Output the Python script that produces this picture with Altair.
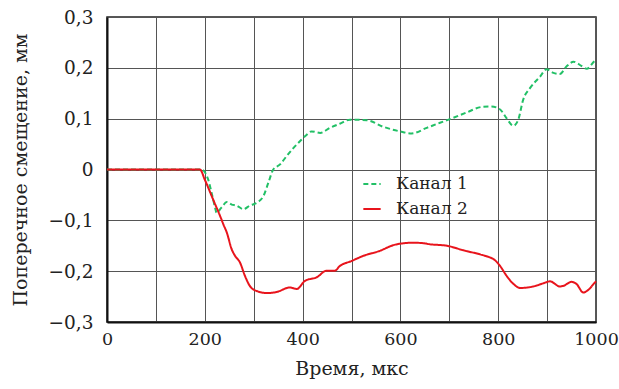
import altair as alt
import pandas as pd

# Channel 1 (green dashed)
t1 = [0, 100, 193, 207, 214, 221, 224, 234, 245, 255, 265, 279, 292, 309, 320, 330, 340,
      354, 367, 381, 395, 408, 418, 436, 456, 476, 497, 531, 565, 599, 623, 654, 681, 701,
      735, 766, 786, 804, 817, 831, 841, 851, 865, 885, 899, 913, 926, 940, 954, 970, 981,
      998, 1000]
v1 = [0, 0, 0, -0.02, -0.046, -0.075, -0.085, -0.075, -0.064, -0.069, -0.071, -0.078, -0.071,
      -0.064, -0.052, -0.026, 0.0, 0.010, 0.026, 0.042, 0.056, 0.068, 0.075, 0.072, 0.082,
      0.090, 0.098, 0.097, 0.084, 0.075, 0.071, 0.082, 0.092, 0.099, 0.112, 0.123, 0.124,
      0.118, 0.101, 0.086, 0.098, 0.137, 0.160, 0.182, 0.197, 0.190, 0.188, 0.203, 0.212,
      0.204, 0.198, 0.214, 0.215]

# Channel 2 (red solid)
t2 = [0, 100, 190, 200, 217, 234, 238, 245, 255, 262, 272, 282, 292, 306, 327, 347, 374, 388,
      405, 429, 449, 466, 476, 500, 524, 558, 585, 599, 626, 647, 660, 695, 729, 763, 783,
      790, 804, 817, 831, 845, 872, 892, 906, 926, 933, 950, 960, 974, 984, 998, 1000]
v2 = [0, 0, 0, -0.02, -0.059, -0.098, -0.108, -0.124, -0.157, -0.170, -0.183, -0.209, -0.229,
      -0.239, -0.243, -0.241, -0.232, -0.235, -0.219, -0.212, -0.199, -0.199, -0.190, -0.180,
      -0.170, -0.160, -0.149, -0.146, -0.144, -0.145, -0.147, -0.150, -0.159, -0.167, -0.173,
      -0.176, -0.190, -0.209, -0.225, -0.233, -0.230, -0.224, -0.220, -0.230, -0.229, -0.221,
      -0.225, -0.242, -0.237, -0.222, -0.220]

series = ["Канал 1", "Канал 2"]
colors = ["#22c066", "#e8141c"]

rows = []
for t, v in zip(t1, v1):
    rows.append({"t": t, "v": v, "s": series[0]})
for t, v in zip(t2, v2):
    rows.append({"t": t, "v": v, "s": series[1]})
df = pd.DataFrame(rows)

FONT = "DejaVu Serif"

def make_legend():
    return alt.Legend(title=None, orient="none", legendX=255, legendY=157,
                      symbolType="stroke", symbolStrokeWidth=2,
                      symbolSize=300, labelFontSize=17, labelFont=FONT,
                      labelColor="#222", rowPadding=7, labelOffset=14)

chart = alt.Chart(df).mark_line(strokeWidth=2, interpolate="monotone").encode(
    x=alt.X("t:Q", scale=alt.Scale(domain=[0, 1000], nice=False),
            axis=alt.Axis(title="Время, мкс", values=list(range(0, 1001, 100)),
                          labelExpr="datum.value % 200 == 0 ? datum.label : ''",
                          format="d", ticks=False, labelPadding=8, titlePadding=12,
                          labelFlush=False)),
    y=alt.Y("v:Q", scale=alt.Scale(domain=[-0.3, 0.3], nice=False),
            axis=alt.Axis(title="Поперечное смещение, мм",
                          values=[-0.3, -0.2, -0.1, 0, 0.1, 0.2, 0.3],
                          labelExpr="datum.value == 0 ? '0' : replace(replace(format(datum.value, '.1f'), '.', ','), '-', '–')",
                          labelFontSize=18.5,
                          ticks=False, labelPadding=14, titlePadding=18, labelFlush=False)),
    color=alt.Color("s:N", scale=alt.Scale(domain=series, range=colors), legend=make_legend()),
    strokeDash=alt.StrokeDash("s:N", scale=alt.Scale(domain=series, range=[[5, 3], [1, 0]]),
                              legend=make_legend()),
).properties(
    width=489, height=305,
    autosize=alt.AutoSizeParams(type="none"),
    padding={"left": 107, "top": 17, "right": 23, "bottom": 67},
    background="white",
).configure_view(
    stroke="#222", strokeWidth=1.5
).configure_axis(
    gridColor="#555", gridWidth=1, gridOpacity=1,
    domainColor="#111", domainWidth=2,
    labelFont=FONT, labelFontSize=17.5, labelColor="#222",
    titleFont=FONT, titleFontSize=19, titleFontWeight="normal", titleColor="#222",
)

chart.save("out.html", embed_options={"renderer": "svg", "actions": False})
